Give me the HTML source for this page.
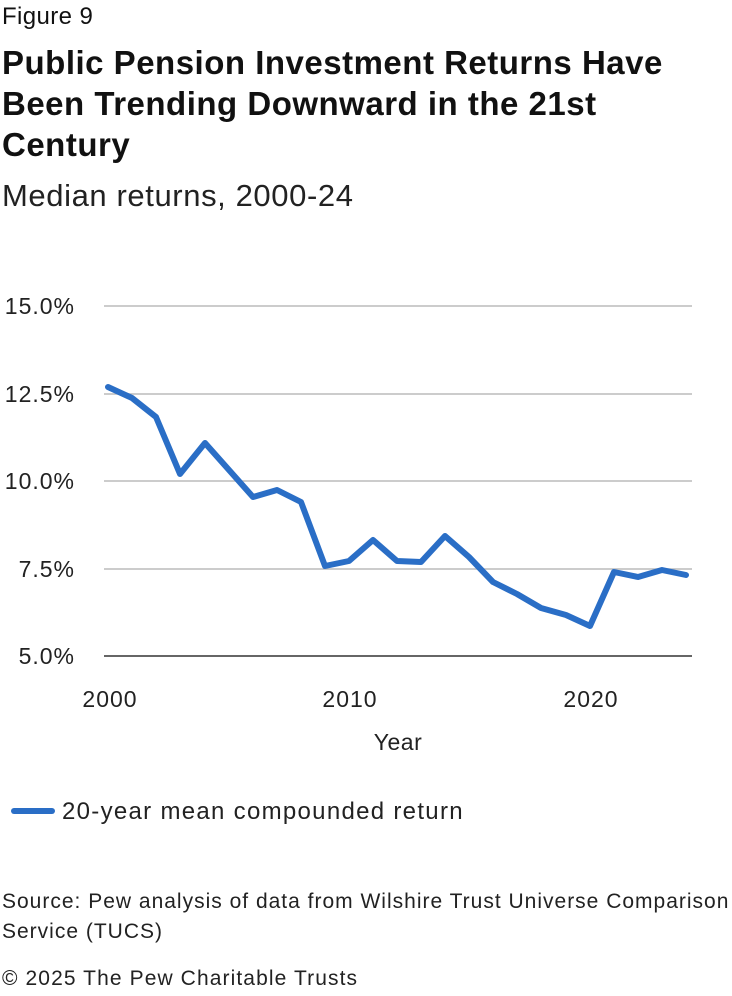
<!DOCTYPE html>
<html><head><meta charset="utf-8"><style>
body{margin:0;width:732px;height:996px;background:#fff;font-family:"Liberation Sans",sans-serif;color:#111;position:relative;overflow:hidden}
.t{position:absolute;left:2px;white-space:nowrap}
</style></head><body>
<div class="t" style="top:3px;font-size:24px;letter-spacing:0.4px">Figure 9</div>
<div class="t" style="top:42px;font-size:33px;font-weight:bold;line-height:41px;letter-spacing:0.5px">Public Pension Investment Returns Have<br>Been Trending Downward in the 21st<br>Century</div>
<div class="t" style="top:178px;font-size:31px;letter-spacing:0.6px;color:#222">Median returns, 2000-24</div>
<svg style="position:absolute;left:0;top:0" width="732" height="996">
<g stroke="#bbb" stroke-width="1.5">
<line x1="104" y1="306" x2="692" y2="306"/><line x1="104" y1="394" x2="692" y2="394"/>
<line x1="104" y1="481" x2="692" y2="481"/><line x1="104" y1="569" x2="692" y2="569"/>
</g>
<line x1="104" y1="656" x2="692" y2="656" stroke="#333" stroke-width="1.5"/>
<g font-size="23" fill="#222" text-anchor="end" font-family="Liberation Sans" letter-spacing="1">
<text x="75" y="314">15.0%</text><text x="75" y="402">12.5%</text><text x="75" y="489">10.0%</text><text x="75" y="577">7.5%</text><text x="75" y="664">5.0%</text>
</g>
<g font-size="23" fill="#222" text-anchor="middle" font-family="Liberation Sans" letter-spacing="1">
<text x="110" y="707">2000</text><text x="350" y="707">2010</text><text x="591" y="707">2020</text>
<text x="398" y="750" letter-spacing="0.5">Year</text>
</g>
<polyline fill="none" stroke="#2a6ec6" stroke-width="6" stroke-linejoin="round" stroke-linecap="round" points="108,387 132,398 156,417 180,474 205,443 229,470 253,497 277,490 301,502 325,566 349,561 373,540 397,561 421,562 445,536 469,557 493,582 517,594 541,608 566,615 590,626 614,572 638,577 662,570 686,575"/>
<line x1="14" y1="811" x2="52" y2="811" stroke="#2a6ec6" stroke-width="6" stroke-linecap="round"/>
<text x="62" y="819" font-size="24" letter-spacing="1.3" fill="#222" font-family="Liberation Sans">20-year mean compounded return</text>
</svg>
<div class="t" style="top:887px;font-size:21px;letter-spacing:1px;line-height:30px;color:#222">Source: Pew analysis of data from Wilshire Trust Universe Comparison<br>Service (TUCS)</div>
<div class="t" style="top:967px;font-size:21px;letter-spacing:1.1px;color:#222">© 2025 The Pew Charitable Trusts</div>
</body></html>
